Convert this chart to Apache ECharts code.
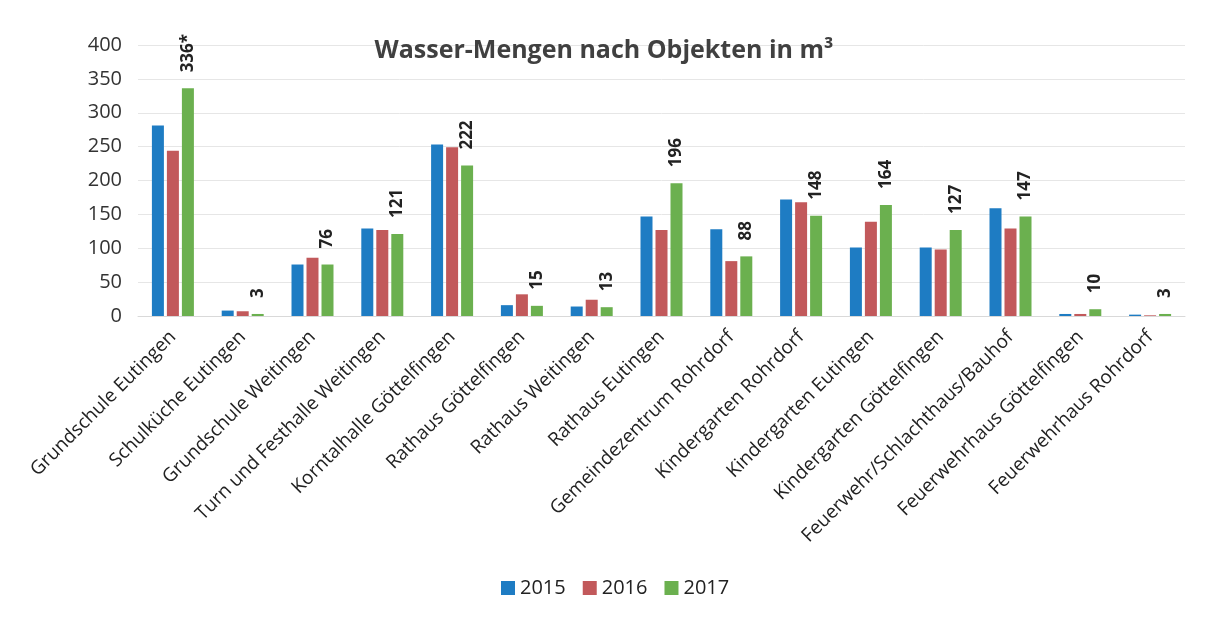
<!DOCTYPE html>
<html>
<head>
<meta charset="utf-8">
<script src="https://cdn.jsdelivr.net/npm/echarts@6/dist/echarts.min.js"></script>
<style>
  html, body { margin: 0; padding: 0; background: #fff; }
  #chart { width: 1208px; height: 620px; }
</style>
</head>
<body>
<div id="chart"></div>
<script>
    "use strict";

    var objekte = [
        'Grundschule Eutingen', 'Schulküche Eutingen', 'Grundschule Weitingen',
        'Turn und Festhalle Weitingen', 'Korntalhalle Göttelfingen', 'Rathaus Göttelfingen',
        'Rathaus Weitingen', 'Rathaus Eutingen', 'Gemeindezentrum Rohrdorf',
        'Kindergarten Rohrdorf', 'Kindergarten Eutingen', 'Kindergarten Göttelfingen',
        'Feuerwehr/Schlachthaus/Bauhof', 'Feuerwehrhaus Göttelfingen', 'Feuerwehrhaus Rohrdorf'
    ];
    var jahre = ['2015', '2016', '2017'];
    var werte2015 = [281, 8, 76, 129, 253, 16, 14, 147, 128, 172, 101, 101, 159, 3, 2];
    var werte2016 = [244, 7, 86, 127, 249, 32, 24, 127, 81, 168, 139, 98, 129, 3, 1];
    var werte2017 = [336, 3, 76, 121, 222, 15, 13, 196, 88, 148, 164, 127, 147, 10, 3];
    var fussnote2017 = ['*', '', '', '', '', '', '', '', '', '', '', '', '', '', ''];
    var farben = ['#1e7cc3', '#c2595b', '#6bb04f'];

    var chart = echarts.init(document.getElementById('chart'));

    chart.setOption({
        color: farben,
        textStyle: { fontFamily: '"Open Sans", sans-serif' },
        title: {
            text: 'Wasser-Mengen nach Objekten in m³',
            left: 'center',
            top: 33,
            textStyle: { fontSize: 25, fontWeight: 'bold', color: '#404040' }
        },
        legend: {
            data: jahre,
            bottom: 17,
            left: 496,
            itemWidth: 14,
            itemHeight: 14,
            itemGap: 17,
            icon: 'rect',
            textStyle: { fontSize: 20, color: '#222' }
        },
        grid: { left: 138, right: 23, top: 45, bottom: 304 },
        xAxis: {
            type: 'category',
            data: objekte,
            axisTick: { show: false },
            axisLine: { lineStyle: { color: '#d9d9d9' } },
            axisLabel: { interval: 0, rotate: 45, fontSize: 19, color: '#222', margin: 18 }
        },
        yAxis: {
            type: 'value',
            min: 0,
            max: 400,
            interval: 50,
            axisLine: { show: false },
            axisTick: { show: false },
            axisLabel: { fontSize: 20, color: '#333', margin: 16 },
            splitLine: { lineStyle: { color: '#e6e6e6' } }
        },
        series: [
            { name: jahre[0], type: 'bar', data: werte2015, barWidth: 12, barGap: '25%' },
            { name: jahre[1], type: 'bar', data: werte2016, barWidth: 12, barGap: '25%' },
            {
                name: jahre[2], type: 'bar', data: werte2017, barWidth: 12, barGap: '25%',
                label: {
                    show: true,
                    position: 'top',
                    rotate: 90,
                    align: 'left',
                    verticalAlign: 'middle',
                    distance: 16,
                    fontSize: 17,
                    fontWeight: 'bold',
                    color: '#222',
                    formatter: function (p) { return p.value + fussnote2017[p.dataIndex]; }
                }
            }
        ]
    });
</script>
</body>
</html>
